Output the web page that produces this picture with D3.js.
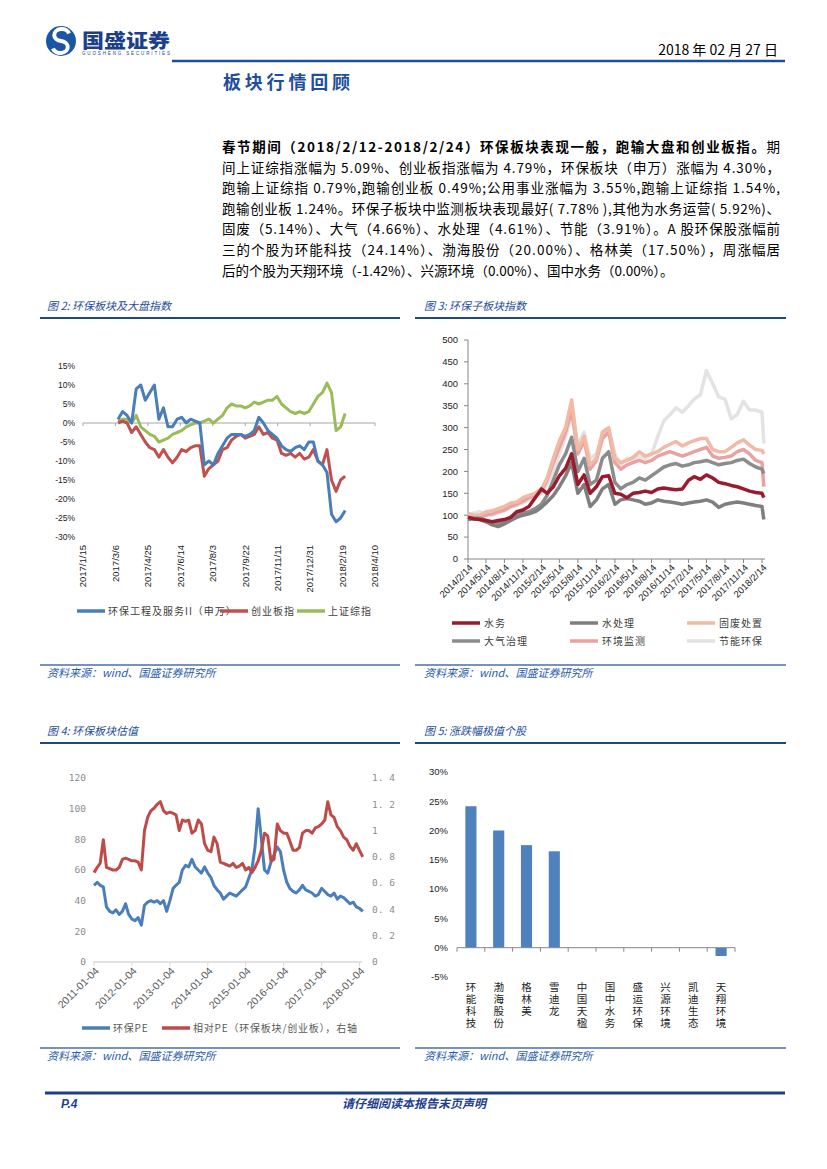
<!DOCTYPE html>
<html><head><meta charset="utf-8">
<script src="https://cdn.jsdelivr.net/npm/d3@7/dist/d3.min.js"></script>
<style>body{margin:0;background:#fff}svg{display:block}</style>
</head><body>
<svg id="page" width="827" height="1169"></svg>
<script>
// ---------------- DATA ----------------
const paraLines = [
  ["春节期间（2018/2/12-2018/2/24）环保板块表现一般，跑输大盘和创业板指。", "期"],
  ["", "间上证综指涨幅为 5.09%、创业板指涨幅为 4.79%，环保板块（申万）涨幅为 4.30%，"],
  ["", "跑输上证综指 0.79%,跑输创业板 0.49%;公用事业涨幅为 3.55%,跑输上证综指 1.54%,"],
  ["", "跑输创业板 1.24%。环保子板块中监测板块表现最好( 7.78% ),其他为水务运营( 5.92%)、"],
  ["", "固废（5.14%）、大气（4.66%）、水处理（4.61%）、节能（3.91%）。A 股环保股涨幅前"],
  ["", "三的个股为环能科技（24.14%）、渤海股份（20.00%）、格林美（17.50%），周涨幅居"],
  ["", "后的个股为天翔环境（-1.42%）、兴源环境（0.00%）、国中水务（0.00%）。"]
];

// Fig 2 (weekly from 2017/3/10)
const f2Start = "2017/3/10";
const f2TickLabels = ["2017/1/15","2017/3/6","2017/4/25","2017/6/14","2017/8/3","2017/9/22","2017/11/11","2017/12/31","2018/2/19","2018/4/10"];
const f2YTicks = [15,10,5,0,-5,-10,-15,-20,-25,-30];
const f2Env = [1,3,2,0,9,10,6,8,10,1, 4,-1,-1,1,1.5,0,1,0.5,0,-11, -10,-11,-8,-6,-4,-3,-3,-3,-3.5,-3, -2,1.5,0,-2,-3,-4,-6,-7,-7.5,-6.5, -6,-7,-5,-5,-10,-11,-13,-24,-26,-25,-23];
const f2Gem = [0,0.5,0,-2.5,-1,-3,-5,-6.5,-7,-9, -7,-9,-10.5,-9,-7,-7.5,-6.5,-6,-6,-14, -12,-11,-10,-7,-6.5,-4.5,-3.5,-3,-4,-3.5, -3,-1,-3,-2.5,-4,-4.5,-8,-8.5,-8,-9, -8,-9.5,-9,-7,-10,-11,-7,-15,-18,-15,-14];
const f2Sh  = [0.5,1,1,0,2,-1,-2,-3,-3.5,-5, -4.5,-4,-3,-2.5,-2,-1,-0.5,0,0,0.5, 1,0,1,2,4,5,4.5,4.5,4,4.5, 5.5,5,5.5,6,6,7,5,4,3,2.5, 3,2.5,3,5,7,8,10.5,8,-2,-1,2.5];
const f2Names = ["环保工程及服务II（申万）","创业板指","上证综指"];
const f2Colors = ["#4a7ebb","#c0504d","#9bbb59"];

// Fig 3 (monthly from 2014/2/14, last point 2018/2/23)
const f3TickLabels = ["2014/2/14","2014/5/14","2014/8/14","2014/11/14","2015/2/14","2015/5/14","2015/8/14","2015/11/14","2016/2/14","2016/5/14","2016/8/14","2016/11/14","2017/2/14","2017/5/14","2017/8/14","2017/11/14","2018/2/14"];
const f3LastDate = "2018/2/23";
const f3YTicks = [0,50,100,150,200,250,300,350,400,450,500];
const f3Names = ["水务","水处理","固废处置","大气治理","环境监测","节能环保"];
const f3Colors = ["#9c1a2e","#7f7f7f","#f2b9a5","#8c8c8c","#e8a2a2","#e3e3e3"];
const f3Water = [95,92,90,88,85,88,90,95,108,112, 120,140,160,150,165,190,207,240,170,192, 150,165,188,190,150,148,140,150,152,155, 152,160,162,160,158,160,180,188,182,192, 185,175,172,168,165,160,155,152,150, 140];
const f3WaterTreat = [90,92,90,85,78,74,80,88,95,100, 103,108,118,130,145,165,190,220,150,170, 120,135,160,170,125,135,138,135,132,125, 128,135,132,130,128,125,128,130,132,135, 130,118,125,128,130,128,125,122,120, 90];
const f3Solid = [104,100,100,108,110,115,120,128,130,140, 145,150,160,185,230,270,300,363,250,280, 215,230,290,300,230,220,225,232,245,235, 240,245,255,262,268,258,265,270,275,275, 250,245,245,255,265,272,260,250,248, 240];
const f3Air = [95,93,93,88,82,80,84,92,100,105, 108,115,125,145,180,215,240,278,200,230, 170,180,230,245,175,160,170,175,185,180, 190,200,210,215,218,212,215,220,222,225, 220,215,218,220,225,228,218,210,205, 195];
const f3Monitor = [100,98,95,100,103,108,112,120,125,132, 140,145,155,180,220,255,290,340,240,270, 205,225,275,290,220,205,215,220,225,220, 225,235,240,245,240,235,240,245,250,255, 235,230,232,235,245,250,240,225,220, 165];
const f3Energy = [100,105,108,103,100,105,110,118,122,128, 135,140,150,170,200,240,280,330,260,290, 230,240,280,298,240,215,230,225,235,230, 238,280,315,330,345,335,350,365,375,430, 400,370,365,320,330,360,340,340,335, 264];

// Fig 4 (monthly from 2011-01-04)
const f4TickLabels = ["2011-01-04","2012-01-04","2013-01-04","2014-01-04","2015-01-04","2016-01-04","2017-01-04","2018-01-04"];
const f4LeftTicks = [0,20,40,60,80,100,120];
const f4RightTicks = [0,0.2,0.4,0.6,0.8,1,1.2,1.4];
const f4PE = [50,52,50,49,36,33,32,34,31,33, 38,31,28,27,29,24,37,39,40,39, 40,38,40,33,40,48,50,52,60,63, 62,67,62,60,58,62,58,55,50,47, 45,41,43,45,44,43,45,47,49,55, 60,75,100,80,60,58,65,70,75,72, 60,52,48,46,45,47,50,47,46,45, 43,44,48,46,44,43,45,41,43,42, 40,38,39,36,35,33];
const f4Rel = [0.68,0.72,0.75,0.93,0.72,0.71,0.70,0.70,0.72,0.78, 0.79,0.78,0.77,0.77,0.76,0.70,1.00,1.10,1.15,1.17, 1.20,1.22,1.15,1.13,1.14,1.13,1.12,1.00,1.08,1.07, 1.08,0.98,1.00,1.08,1.05,0.90,0.85,0.84,0.95,0.90, 0.76,0.75,0.74,0.73,0.75,0.72,0.73,0.75,0.70,0.72, 0.68,0.72,0.77,0.85,0.98,0.96,0.77,0.78,1.05,1.00, 0.98,0.98,0.92,0.85,0.85,0.87,0.98,1.00,1.00,0.98, 1.02,1.03,1.05,1.08,1.22,1.12,1.10,1.03,1.00,0.95, 0.93,0.88,0.85,0.90,0.85,0.80];
const f4Names = ["环保PE","相对PE（环保板块/创业板），右轴"];
const f4Colors = ["#4a7ebb","#be4b48"];

// Fig 5
const f5Stocks = ["环能科技","渤海股份","格林美","雪迪龙","中国天楹","国中水务","盛运环保","兴源环境","凯迪生态","天翔环境"];
const f5Values = [24.14,20.00,17.50,16.45,0,0,0,0,0,-1.42];
const f5YTicks = [30,25,20,15,10,5,0,-5];

// ---------------- DRAW ----------------
const svg = d3.select("#page");
const CJK = "'Noto Sans CJK SC', sans-serif";
const SANS = "'Liberation Sans', Arial, sans-serif";
const BLUE = "#1f4e96";

// Header
svg.append("circle").attr("cx",61).attr("cy",41).attr("r",15).attr("fill","#1b56a4");
svg.append("path").attr("d","M 69 33.5 A 7.5 6 0 1 0 61 41 A 7.5 6 0 1 1 53 48.5")
  .attr("fill","none").attr("stroke","#fff").attr("stroke-width",4);
svg.append("text").attr("x",82).attr("y",48).attr("font-family",CJK).attr("font-weight",900)
  .attr("font-size",19).attr("fill","#1b3f8c").attr("textLength",88).attr("lengthAdjust","spacingAndGlyphs").text("国盛证券");
svg.append("text").attr("x",82).attr("y",55).attr("font-family",SANS).attr("font-size",4.5)
  .attr("fill","#1b3f8c").attr("textLength",88).text("GUOSHENG SECURITIES");
svg.append("text").attr("x",778).attr("y",55).attr("text-anchor","end").attr("font-family",CJK)
  .attr("font-size",14).attr("fill","#000").text("2018 年 02 月 27 日");
svg.append("line").attr("x1",172).attr("x2",785).attr("y1",61).attr("y2",61).attr("stroke",BLUE).attr("stroke-width",2.5);
svg.append("text").attr("x",223).attr("y",89).attr("font-family",CJK).attr("font-weight",700)
  .attr("font-size",18).attr("fill","#1f4e9c").attr("textLength",127).text("板块行情回顾");

// Paragraph
paraLines.forEach((ln,i)=>{
  const t = svg.append("text").attr("x",222).attr("y",152+i*20.6).attr("font-family",CJK)
    .attr("font-size",13.5).attr("fill","#000");
  if (i < paraLines.length-1) t.attr("textLength",558).attr("lengthAdjust","spacing");
  if (ln[0]) t.append("tspan").attr("font-weight",700).text(ln[0]);
  t.append("tspan").text(ln[1]);
});

// Captions / sources
function caption(x, x1, x2, y, txt){
  svg.append("text").attr("x",x).attr("y",y).attr("font-family",CJK).attr("font-style","italic")
    .attr("font-size",11).attr("fill","#1f4e9c").text(txt);
  svg.append("line").attr("x1",x1).attr("x2",x2).attr("y1",y+8).attr("y2",y+8).attr("stroke","#1f497d").attr("stroke-width",2);
}
function source(x, x1, x2, y){
  svg.append("line").attr("x1",x1).attr("x2",x2).attr("y1",y).attr("y2",y).attr("stroke","#4a6eaa").attr("stroke-width",1.5);
  svg.append("text").attr("x",x).attr("y",y+12).attr("font-family",CJK).attr("font-style","italic")
    .attr("font-size",11).attr("fill","#2a5caa").text("资料来源：wind、国盛证券研究所");
}
caption(47,40,400,310,"图 2:  环保板块及大盘指数");
caption(424,415,786,310,"图 3:  环保子板块指数");
caption(47,40,400,735,"图 4:  环保板块估值");
caption(424,415,786,735,"图 5:  涨跌幅极值个股");
source(47,40,400,665); source(424,415,786,665);
source(47,40,400,1048); source(424,415,786,1048);

// Footer
svg.append("line").attr("x1",45).attr("x2",785).attr("y1",1093).attr("y2",1093).attr("stroke","#1f3f7f").attr("stroke-width",3);
svg.append("text").attr("x",61).attr("y",1108).attr("font-family",SANS).attr("font-weight",700).attr("font-style","italic")
  .attr("font-size",12).attr("fill","#1f3f8f").text("P.4");
svg.append("text").attr("x",414).attr("y",1108).attr("text-anchor","middle").attr("font-family",CJK).attr("font-weight",700).attr("font-style","italic")
  .attr("font-size",12).attr("fill","#1f3f8f").text("请仔细阅读本报告末页声明");

// ---------- Fig 2 ----------
{
  const p = d3.timeParse("%Y/%m/%d");
  const tickDates = f2TickLabels.map(p);
  const x = d3.scaleTime().domain([tickDates[0], tickDates[tickDates.length-1]]).range([83,375]);
  const y = d3.scaleLinear().domain([-30,15]).range([537,366]);
  const g = svg.append("g");
  f2YTicks.forEach(v=>{
    g.append("text").attr("x",75).attr("y",y(v)).attr("dy","0.35em").attr("text-anchor","end")
      .attr("font-family",SANS).attr("font-size",8.5).attr("fill","#222").text(v+"%");
  });
  g.append("line").attr("x1",83).attr("x2",375).attr("y1",y(0)).attr("y2",y(0)).attr("stroke","#a6a6a6");
  tickDates.forEach((d,i)=>{
    g.append("line").attr("x1",x(d)).attr("x2",x(d)).attr("y1",y(0)).attr("y2",y(0)+3).attr("stroke","#a6a6a6");
    g.append("text").attr("transform",`translate(${x(d)},545) rotate(-90)`).attr("dy","0.35em")
      .attr("text-anchor","end").attr("font-family",SANS).attr("font-size",9.5).attr("fill","#222").text(f2TickLabels[i]);
  });
  const start = p(f2Start);
  const series = [f2Env,f2Gem,f2Sh];
  const line = d3.line().x((d,i)=>x(d3.timeDay.offset(start,7*i))).y(d=>y(d));
  [2,1,0].forEach(k=>{
    g.append("path").attr("d",line(series[k])).attr("fill","none").attr("stroke",f2Colors[k])
      .attr("stroke-width",3).attr("stroke-linejoin","round");
  });
  const lx = [77,220,297];
  f2Names.forEach((n,k)=>{
    g.append("line").attr("x1",lx[k]).attr("x2",lx[k]+28).attr("y1",611).attr("y2",611).attr("stroke",f2Colors[k]).attr("stroke-width",3.5);
    g.append("text").attr("x",lx[k]+31).attr("y",611).attr("dy","0.35em").attr("font-family",CJK)
      .attr("font-size",10).attr("letter-spacing",1).attr("fill","#404040").text(n);
  });
}

// ---------- Fig 3 ----------
{
  const p = d3.timeParse("%Y/%m/%d");
  const tickDates = f3TickLabels.map(p);
  const x = d3.scaleTime().domain([tickDates[0], tickDates[tickDates.length-1]]).range([468,762]);
  const y = d3.scaleLinear().domain([0,500]).range([559,340]);
  const g = svg.append("g");
  g.append("line").attr("x1",468).attr("x2",468).attr("y1",340).attr("y2",559).attr("stroke","#868686");
  f3YTicks.forEach(v=>{
    g.append("line").attr("x1",464).attr("x2",468).attr("y1",y(v)).attr("y2",y(v)).attr("stroke","#868686");
    g.append("text").attr("x",458).attr("y",y(v)).attr("dy","0.35em").attr("text-anchor","end")
      .attr("font-family",SANS).attr("font-size",9.5).attr("fill","#222").text(v);
  });
  g.append("line").attr("x1",468).attr("x2",765).attr("y1",559).attr("y2",559).attr("stroke","#868686");
  tickDates.forEach((d,i)=>{
    g.append("line").attr("x1",x(d)).attr("x2",x(d)).attr("y1",559).attr("y2",563).attr("stroke","#868686");
    g.append("text").attr("transform",`translate(${x(d)+3},566) rotate(-45)`).attr("dy","0.35em")
      .attr("text-anchor","end").attr("font-family",SANS).attr("font-size",9.5).attr("fill","#222").text(f3TickLabels[i]);
  });
  const start = tickDates[0];
  const last = p(f3LastDate);
  const dateAt = i => i < 49 ? d3.timeMonth.offset(start,i) : last;
  const series = [f3Water,f3WaterTreat,f3Solid,f3Air,f3Monitor,f3Energy];
  const line = d3.line().x((d,i)=>x(dateAt(i))).y(d=>y(d));
  [5,4,2,3,1,0].forEach(k=>{
    g.append("path").attr("d",line(series[k])).attr("fill","none").attr("stroke",f3Colors[k])
      .attr("stroke-width",3.5).attr("stroke-linejoin","round");
  });
  const cols = [452,570,687], rows = [623,641];
  f3Names.forEach((n,k)=>{
    const cx = cols[k%3], cy = rows[Math.floor(k/3)];
    g.append("line").attr("x1",cx).attr("x2",cx+28).attr("y1",cy).attr("y2",cy).attr("stroke",f3Colors[k]).attr("stroke-width",3.5);
    g.append("text").attr("x",cx+32).attr("y",cy).attr("dy","0.35em").attr("font-family",CJK)
      .attr("font-size",10).attr("letter-spacing",1).attr("fill","#404040").text(n);
  });
}

// ---------- Fig 4 ----------
{
  const p = d3.timeParse("%Y-%m-%d");
  const tickDates = f4TickLabels.map(p);
  const x = d3.scaleTime().domain([tickDates[0], tickDates[tickDates.length-1]]).range([94,359.5]);
  const yL = d3.scaleLinear().domain([0,120]).range([962,778]);
  const yR = d3.scaleLinear().domain([0,1.4]).range([962,778]);
  const g = svg.append("g");
  const MONO = "'DejaVu Sans Mono', monospace";
  f4LeftTicks.forEach(v=>{
    g.append("text").attr("x",86).attr("y",yL(v)).attr("dy","0.35em").attr("text-anchor","end")
      .attr("font-family",MONO).attr("font-size",9.5).attr("fill","#8c8c8c").text(v);
  });
  f4RightTicks.forEach(v=>{
    g.append("text").attr("x",372).attr("y",yR(v)).attr("dy","0.35em").attr("text-anchor","start")
      .attr("font-family",MONO).attr("font-size",9.5).attr("fill","#8c8c8c").text(String(+v.toFixed(1)).replace(".",". "));
  });
  g.append("line").attr("x1",93).attr("x2",362).attr("y1",962).attr("y2",962).attr("stroke","#d9d9d9").attr("stroke-width",1.5);
  tickDates.forEach((d,i)=>{
    g.append("line").attr("x1",x(d)).attr("x2",x(d)).attr("y1",962).attr("y2",966).attr("stroke","#d9d9d9");
    g.append("text").attr("transform",`translate(${x(d)+3},969) rotate(-45)`).attr("dy","0.35em")
      .attr("text-anchor","end").attr("font-family",SANS).attr("font-size",10.5).attr("fill","#595959").text(f4TickLabels[i]);
  });
  const start = tickDates[0];
  const dAt = i => d3.timeMonth.offset(start,i);
  g.append("path").attr("d",d3.line().x((d,i)=>x(dAt(i))).y(d=>yL(d))(f4PE)).attr("fill","none")
    .attr("stroke",f4Colors[0]).attr("stroke-width",3).attr("stroke-linejoin","round");
  g.append("path").attr("d",d3.line().x((d,i)=>x(dAt(i))).y(d=>yR(d))(f4Rel)).attr("fill","none")
    .attr("stroke",f4Colors[1]).attr("stroke-width",3).attr("stroke-linejoin","round");
  const lx = [82,162];
  f4Names.forEach((n,k)=>{
    g.append("line").attr("x1",lx[k]).attr("x2",lx[k]+28).attr("y1",1028).attr("y2",1028).attr("stroke",f4Colors[k]).attr("stroke-width",3.5);
    g.append("text").attr("x",lx[k]+31).attr("y",1028).attr("dy","0.35em").attr("font-family",CJK)
      .attr("font-size",10).attr("letter-spacing",0.8).attr("fill","#595959").text(n);
  });
}

// ---------- Fig 5 ----------
{
  const x = d3.scaleBand().domain(f5Stocks).range([457,735]).paddingInner(0.6).paddingOuter(0.3);
  const y = d3.scaleLinear().domain([-5,30]).range([977,771.9]);
  const g = svg.append("g");
  f5YTicks.forEach(v=>{
    g.append("text").attr("x",448).attr("y",y(v)).attr("dy","0.35em").attr("text-anchor","end")
      .attr("font-family",SANS).attr("font-size",9.5).attr("fill","#222").text(v+"%");
  });
  f5Stocks.forEach((s,i)=>{
    const v = f5Values[i];
    if (v !== 0) g.append("rect").attr("x",x(s)).attr("width",x.bandwidth())
      .attr("y",y(Math.max(0,v))).attr("height",Math.abs(y(v)-y(0))).attr("fill","#4f81bd");
  });
  g.append("line").attr("x1",457).attr("x2",735).attr("y1",y(0)).attr("y2",y(0)).attr("stroke","#868686");
  const step = x.step();
  d3.range(11).forEach(i=>{
    const tx = 457 + i*step;
    g.append("line").attr("x1",tx).attr("x2",tx).attr("y1",y(0)).attr("y2",y(0)+4).attr("stroke","#868686");
  });
  f5Stocks.forEach(s=>{
    const cx = x(s) + x.bandwidth()/2;
    g.append("text").attr("x",cx).attr("y",982).attr("writing-mode","vertical-rl")
      .attr("style","writing-mode:vertical-rl;text-orientation:upright")
      .attr("font-family",CJK).attr("font-size",10.5).attr("letter-spacing",1.3).attr("fill","#222").text(s);
  });
}
</script>
</body></html>
